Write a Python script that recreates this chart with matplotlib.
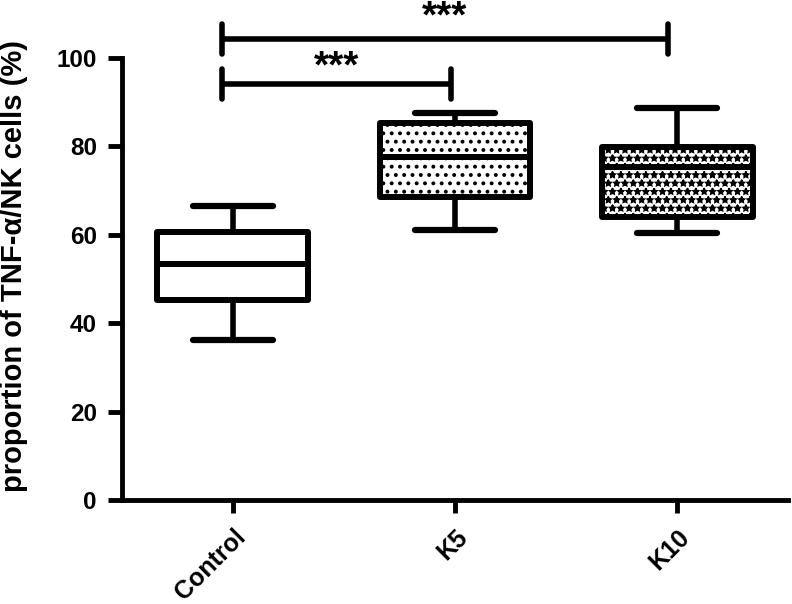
import numpy as np
import matplotlib
matplotlib.use("Agg")
import matplotlib.pyplot as plt

groups = ["Control", "K5", "K10"]
whislo = [36.2, 61.1, 60.5]
q1 = [45.2, 68.6, 64.1]
med = [53.5, 77.5, 75.4]
q3 = [60.6, 85.2, 79.9]
whishi = [66.6, 87.6, 88.6]
hatches = ["", "..", "**"]
hatch_lw = [1.0, 1.6, 1.2]

# significance brackets
sig_x1 = [-0.05, -0.05]
sig_x2 = [0.98, 1.96]
sig_y = [94.1, 104.3]
star_y = [95.5, 106.8]
sig_txt = ["***", "***"]

plt.rcParams["font.family"] = ["Liberation Sans", "DejaVu Sans"]
plt.rcParams["font.weight"] = "bold"
plt.rcParams["hatch.linewidth"] = 1.6

fig = plt.figure(figsize=(7.92, 6.04), dpi=100)
ax = fig.add_axes((0.154, 0.172, 0.841, 0.732))

stats = []
for i in range(len(groups)):
    stats.append({"whislo": whislo[i], "q1": q1[i], "med": med[i],
                  "q3": q3[i], "whishi": whishi[i], "label": groups[i]})

pos = np.arange(len(groups))
bp = ax.bxp(stats, positions=pos, widths=0.68, showfliers=False,
            patch_artist=True,
            boxprops=dict(linewidth=4.3, edgecolor="black", facecolor="white"),
            medianprops=dict(linewidth=4.3, color="black", solid_capstyle="butt"),
            whiskerprops=dict(linewidth=4.0, color="black"),
            capprops=dict(linewidth=4.5, color="black", solid_capstyle="round"),
            capwidths=0.36)
for b, h, hl in zip(bp["boxes"], hatches, hatch_lw):
    b.set_hatch(h)
    b.set_joinstyle("round")
    if hasattr(b, "set_hatch_linewidth"):
        b.set_hatch_linewidth(hl)

for x1, x2, y, sy, t in zip(sig_x1, sig_x2, sig_y, star_y, sig_txt):
    ax.plot([x1, x2], [y, y], color="black", lw=4.0, clip_on=False,
            solid_capstyle="butt")
    for xx in (x1, x2):
        ax.plot([xx, xx], [y - 3.3, y + 3.3], color="black", lw=4.0,
                clip_on=False, solid_capstyle="round")
    ax.text((x1 + x2) / 2, sy, t, ha="center", va="baseline",
            fontsize=28, fontweight="bold", clip_on=False)

ax.set_xlim(-0.5, 2.5)
ax.set_ylim(0, 100)
ax.set_yticks([0, 20, 40, 60, 80, 100])
ax.set_xticks(pos)
ax.set_xticklabels(groups, rotation=45, ha="right", rotation_mode="anchor",
                   fontsize=18, fontweight="bold")
ax.tick_params(axis="y", labelsize=17.5, width=3.5, length=10, direction="out",
               pad=8)
ax.tick_params(axis="x", width=3.5, length=9, direction="out", pad=9)
for lab in ax.get_yticklabels():
    lab.set_fontweight("bold")

ax.set_ylabel("proportion of TNF-α/NK cells (%)", fontsize=21,
              fontweight="bold")
ax.yaxis.set_label_coords(-0.141, 0.53)

ax.spines["top"].set_visible(False)
ax.spines["right"].set_visible(False)
ax.spines["left"].set_linewidth(3.5)
ax.spines["bottom"].set_linewidth(3.5)

fig.savefig("out.png", dpi=100)
